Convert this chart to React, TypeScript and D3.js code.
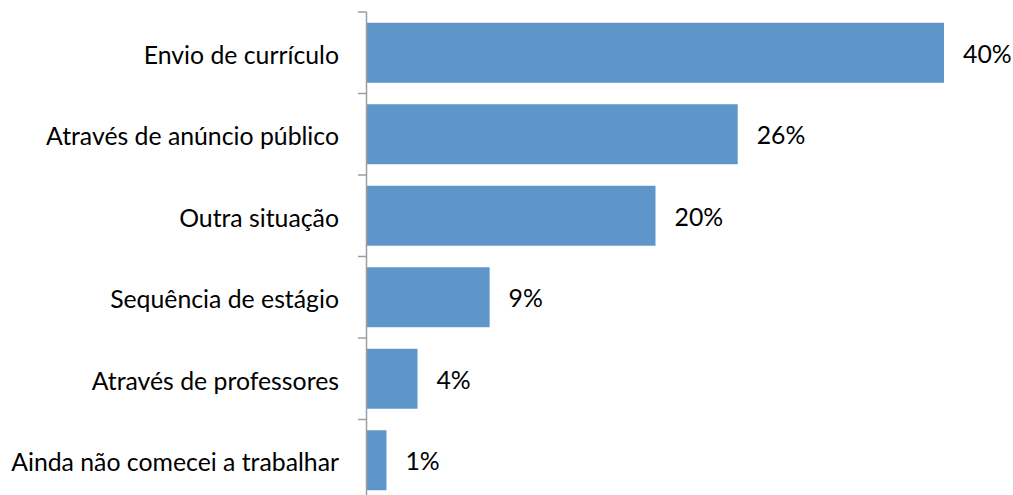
import React from "react";
import * as d3 from "d3";

const categories = [
  "Envio de currículo",
  "Através de anúncio público",
  "Outra situação",
  "Sequência de estágio",
  "Através de professores",
  "Ainda não comecei a trabalhar",
];
const values = [40, 25.7, 20, 8.5, 3.5, 1.35];
const valueLabels = ["40%", "26%", "20%", "9%", "4%", "1%"];

const W = 1013;
const H = 495;
const axisX = 366.5;
const top = 12;
const bottom = 501;

export default function App() {
  const y = d3.scaleBand<string>().domain(categories).range([top, bottom]).paddingInner(0.264).paddingOuter(0.132);
  const x = d3.scaleLinear().domain([0, 40]).range([axisX + 0.5, 944]);
  const step = (bottom - top) / categories.length;
  const font = "Lato, sans-serif";
  const fs = 24.8;
  return (
    <svg width={W} height={H} style={{ position: "absolute", left: 0, top: 0 }}>
      <rect width={W} height={H} fill="#fff" />
      {categories.map((c, i) => (
        <g key={c}>
          <rect x={x(0)} y={y(c)!} width={x(values[i]) - x(0)} height={y.bandwidth()} fill="#5F96CA" />
          <text x={x(values[i]) + 19} y={y(c)! + y.bandwidth() / 2} dy="0.4em" fontFamily={font} fontSize={fs} fill="#000">
            {valueLabels[i]}
          </text>
          <text x={339} y={y(c)! + y.bandwidth() / 2} dy="0.44em" textAnchor="end" fontFamily={font} fontSize={fs} fill="#000">
            {c}
          </text>
        </g>
      ))}
      {d3.range(categories.length + 1).map((i) => (
        <line key={i} x1={358} x2={axisX} y1={top + i * step} y2={top + i * step} stroke="#9E9E9E" strokeWidth={1.5} />
      ))}
      <line x1={axisX} x2={axisX} y1={top} y2={bottom} stroke="#9E9E9E" strokeWidth={1.5} />
    </svg>
  );
}
